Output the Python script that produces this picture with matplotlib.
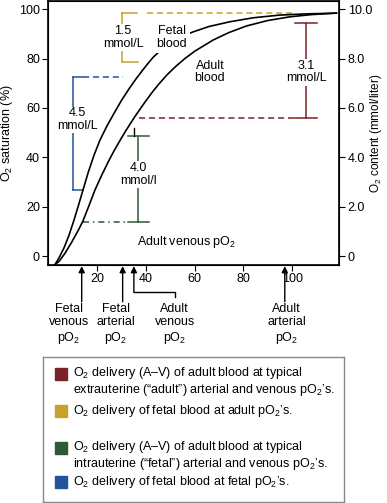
import matplotlib
matplotlib.use("Agg")
import matplotlib.pyplot as plt
from matplotlib.patches import Rectangle

plt.rcParams['font.family'] = ['Liberation Sans', 'DejaVu Sans']
plt.rcParams['mathtext.fontset'] = 'custom'
plt.rcParams['mathtext.rm'] = 'Liberation Sans'
plt.rcParams['mathtext.it'] = 'Liberation Sans:italic'
plt.rcParams['font.size'] = 9

# curves (pO2 mmHg, saturation %)
fetal_po2 = [2.6, 4.5, 6.5, 8.5, 10.5, 12.5, 14.2, 16.4, 18.8, 21.2, 24.0, 26.6, 30.1,
             33.5, 36.0, 38.3, 40.7, 43.0, 47.0, 51.0, 55.0, 59.4, 66.0, 74.5, 84.0,
             94.9, 106.0, 118.2]
fetal_sat = [-3.6, -0.5, 3.5, 8.5, 14.5, 21.0, 26.7, 34.0, 41.0, 47.0, 52.6, 57.2, 63.2,
             68.3, 71.8, 74.8, 77.8, 80.5, 84.2, 87.0, 89.0, 90.8, 93.0, 94.9, 96.5,
             97.6, 98.1, 98.4]
adult_po2 = [2.6, 4.5, 6.8, 9.5, 12.3, 14.2, 16.5, 19.1, 22.0, 25.0, 27.0, 29.5, 31.8,
             35.5, 39.6, 42.5, 45.1, 48.5, 51.9, 56.0, 60.1, 67.6, 74.0, 81.3, 90.0,
             99.1, 108.0, 118.2]
adult_sat = [-3.6, -2.0, 1.1, 5.5, 10.5, 14.2, 20.0, 26.7, 33.0, 39.0, 42.7, 47.0, 50.8,
             56.5, 62.3, 66.2, 69.4, 73.2, 76.5, 80.0, 83.0, 87.5, 90.5, 93.2, 95.4,
             96.9, 97.8, 98.4]

# typical pO2 values marked under the axis
po2_marks = [13.7, 30.5, 35.1, 97.0]
po2_names = ["Fetal\nvenous\npO$_2$", "Fetal\narterial\npO$_2$", "Adult\nvenous\npO$_2$", "Adult\narterial\npO$_2$"]
name_x = [8.5, 27.7, 51.9, 97.7]

# delivery brackets: pO2 of bracket, top sat, bottom sat, label
red_c, gold_c, green_c, blue_c = '#7d2027', '#c6a22c', '#2e5a36', '#22549e'
red_br = (105.9, 94.2, 56.1, "3.1\nmmol/L")
gold_br = (30.1, 98.3, 78.8, "1.5\nmmol/L")
green_br = (36.9, 48.7, 13.9, "4.0\nmmol/l")
blue_br = (10.25, 72.5, 26.7, "4.5\nmmol/L")

legend_colors = [red_c, gold_c, green_c, blue_c]
legend_labels = [
    "O$_2$ delivery (A\u2013V) of adult blood at typical\nextrauterine (\u201cadult\u201d) arterial and venous pO$_2$\u2019s.",
    "O$_2$ delivery of fetal blood at adult pO$_2$\u2019s.",
    "O$_2$ delivery (A\u2013V) of adult blood at typical\nintrauterine (\u201cfetal\u201d) arterial and venous pO$_2$\u2019s.",
    "O$_2$ delivery of fetal blood at fetal pO$_2$\u2019s.",
]

fig = plt.figure(figsize=(3.87, 5.03), dpi=100)
ax = fig.add_axes([0.1248, 0.473, 0.7522, 0.525])

ax.plot(fetal_po2, fetal_sat, color='black', lw=1.2, zorder=3)
ax.plot(adult_po2, adult_sat, color='black', lw=1.2, zorder=3)

dash = (0, (4, 2.5))
lw_b = 1.1
white = dict(fc='white', ec='none', pad=1.0)

# red bracket
x, top, bot, lab = red_br
ax.plot([x, x], [top, bot], color=red_c, lw=lw_b)
ax.plot([101.1, 110.1], [top, top], color=red_c, lw=lw_b)
ax.plot([101.1, 110.1], [bot, bot], color=red_c, lw=lw_b)
ax.plot([37.3, 101.1], [bot, bot], color=red_c, lw=lw_b, ls=dash)
ax.text(x, 74.5, lab, ha='center', va='center', linespacing=1.05, bbox=white, zorder=4)

# gold bracket
x, top, bot, lab = gold_br
ax.plot([x, x], [top, bot], color=gold_c, lw=lw_b)
ax.plot([x, 36.2], [top, top], color=gold_c, lw=lw_b)
ax.plot([x, 36.9], [bot, bot], color=gold_c, lw=lw_b)
ax.plot([40.3, 101.1], [top, top], color=gold_c, lw=lw_b, ls=dash)
ax.text(x + 0.6, 88.5, lab, ha='center', va='center', linespacing=1.05, bbox=white, zorder=4)

# green bracket
x, top, bot, lab = green_br
ax.plot([x, x], [top, bot], color=green_c, lw=lw_b)
ax.plot([32.5, 41.3], [top, top], color=green_c, lw=lw_b)
ax.plot([32.5, 41.3], [bot, bot], color=green_c, lw=lw_b)
ax.plot([14.2, 32.5], [bot, bot], color=green_c, lw=lw_b, ls=(0, (4, 2.5, 1, 2.5)))
ax.plot([35.3, 35.3], [51.8, top], color='black', lw=1.0)
ax.text(x, 33.0, lab, ha='center', va='center', linespacing=1.05, bbox=white, zorder=4)

# blue bracket
x, top, bot, lab = blue_br
ax.plot([x, x], [top, bot], color=blue_c, lw=lw_b)
ax.plot([x, 14.2], [top, top], color=blue_c, lw=lw_b)
ax.plot([x, 14.2], [bot, bot], color=blue_c, lw=lw_b)
ax.plot([14.2, 30.6], [top, top], color=blue_c, lw=lw_b, ls=dash)
ax.text(11.8, 55.3, lab, ha='center', va='center', linespacing=1.05,
        bbox=dict(fc='white', ec='none', pad=0.5), zorder=4)

# curve labels
ax.text(50.7, 88.5, "Fetal\nblood", ha='center', va='center', linespacing=1.05,
        bbox=dict(fc='white', ec='none', pad=2.0), zorder=4)
ax.text(66.3, 74.5, "Adult\nblood", ha='center', va='center', linespacing=1.05)
ax.text(56.8, 5.7, "Adult venous pO$_2$", ha='center', va='center')

ax.set_xlim(0, 119.4)
ax.set_ylim(-3.6, 103.3)
ax.set_xticks([20, 40, 60, 80, 100])
ax.set_yticks([0, 20, 40, 60, 80, 100])
ax.set_ylabel("O$_2$ saturation (%)", labelpad=3)
ax.tick_params(direction='out', length=4, width=0.8, pad=2)
for s in ax.spines.values():
    s.set_linewidth(1.2)

ax2 = ax.twinx()
ax2.set_ylim(-0.36, 10.33)
ax2.set_yticks([0, 2, 4, 6, 8, 10])
ax2.set_yticklabels(['0', '2.0', '4.0', '6.0', '8.0', '10.0'])
ax2.set_ylabel("O$_2$ content (mmol/liter)", fontsize=8.5)
ax2.yaxis.set_label_coords(1.126, 0.5)
ax2.yaxis.label.set_verticalalignment('center')
ax2.tick_params(direction='out', length=4, width=0.8, pad=2)

# arrows under the axis
tr = ax.get_xaxis_transform()
for i, p in enumerate(po2_marks):
    start = -0.103 if i == 2 else -0.139
    ax.annotate('', xy=(p, -0.004), xycoords=tr, xytext=(p, start), textcoords=tr,
                arrowprops=dict(arrowstyle='-|>', color='black', lw=1.0,
                                mutation_scale=9, shrinkA=0, shrinkB=0),
                annotation_clip=False)
    ax.text(name_x[i], -0.142, po2_names[i], transform=tr, ha='center', va='top',
            linespacing=1.15)
ax.plot([po2_marks[2], name_x[2], name_x[2]], [-0.103, -0.103, -0.12], color='black',
        lw=1.0, transform=tr, clip_on=False)

# legend box
lg = fig.add_axes([0.110, 0.0026, 0.779, 0.288])
lg.set_xlim(42.7, 344)
lg.set_ylim(501.7, 356.7)
lg.set_xticks([])
lg.set_yticks([])
for s in lg.spines.values():
    s.set_color('#888888')
    s.set_linewidth(1.0)
square_y = [374, 411, 447.7, 481.7]
text_y = [381.7, 411, 455.5, 481.7]
for c, lab, sy, ty in zip(legend_colors, legend_labels, square_y, text_y):
    lg.add_patch(Rectangle((55.5, sy - 6), 12, 12, color=c))
    lg.text(73.3, ty, lab, ha='left', va='center', linespacing=1.1)

fig.savefig("out.png", dpi=100)
